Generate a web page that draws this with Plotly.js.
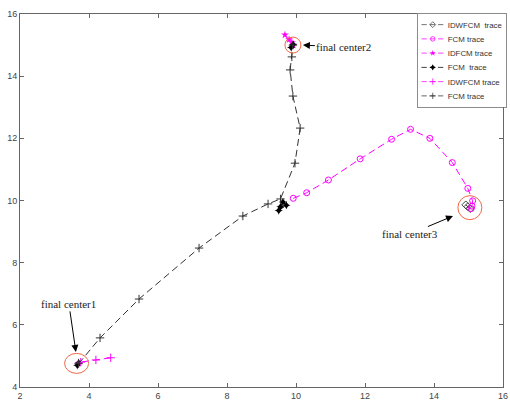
<!DOCTYPE html>
<html><head><meta charset="utf-8">
<script src="https://cdn.plot.ly/plotly-3.0.1.min.js"></script>
<style>html,body{margin:0;padding:0;background:#fff}#chart{width:510px;height:400px}</style>
</head><body><div id="chart"></div>
<script>
// Trace data
const idwfcmBlackX = [14.92, 14.98, 15.05];
const idwfcmBlackY = [9.86, 9.80, 9.74];
const fcmMagentaX = [9.92, 10.31, 10.94, 11.86, 12.77, 13.32, 13.88, 14.53, 14.98, 15.12, 15.10, 15.08];
const fcmMagentaY = [10.07, 10.25, 10.66, 11.34, 11.97, 12.29, 12.00, 11.22, 10.39, 9.99, 9.82, 9.74];
const idfcmMagentaX = [9.68, 9.80, 9.88, 9.92];
const idfcmMagentaY = [15.33, 15.18, 15.08, 15.00];
const fcmStarX = [3.66, 3.70, null, 9.50, 9.72, 9.62, 9.55, null, 9.86, 9.92];
const fcmStarY = [4.70, 4.78, null, 9.68, 9.85, 9.95, 9.80, null, 14.92, 15.02];
const idwfcmMagentaX = [4.63, 4.20, 3.76];
const idwfcmMagentaY = [4.94, 4.87, 4.80];
const fcmPlusX = [3.70, 4.32, 5.45, 7.19, 8.46, 9.19, 9.55, 9.97, 10.12, 9.91, 9.83, 9.88, 9.91];
const fcmPlusY = [4.75, 5.58, 6.83, 8.47, 9.50, 9.89, 10.05, 11.20, 12.33, 13.36, 14.20, 14.62, 15.00];
const legendNames = ['IDWFCM  trace', 'FCM trace', 'IDFCM trace', 'FCM  trace', 'IDWFCM trace', 'FCM trace'];
// Final centers and labels
const centerX = [3.64, 9.91, 15.04];
const centerY = [4.76, 15.00, 9.77];
const centerLabels = ['final center1', 'final center2', 'final center3'];
const arrowX = [3.62, 10.20, 14.55];
const arrowY = [5.13, 15.00, 9.50];
const xTicks = [2, 4, 6, 8, 10, 12, 14, 16];
const yTicks = [4, 6, 8, 10, 12, 14, 16];

const dash = {dash: '7px,4px', width: 1};
const traces = [
  {x: idwfcmBlackX, y: idwfcmBlackY, name: legendNames[0], mode: 'lines+markers',
   line: Object.assign({color: '#444'}, dash), marker: {symbol: 'diamond-open', size: 6, color: '#444', line: {width: 1}}},
  {x: fcmMagentaX, y: fcmMagentaY, name: legendNames[1], mode: 'lines+markers',
   line: Object.assign({color: '#ff00ff'}, dash), marker: {symbol: 'circle-open', size: 6, color: '#ff00ff', line: {width: 1}}},
  {x: idfcmMagentaX, y: idfcmMagentaY, name: legendNames[2], mode: 'lines+markers',
   line: Object.assign({color: '#ff00ff'}, dash), marker: {symbol: 'star', size: 6, color: '#ff00ff'}},
  {x: fcmStarX, y: fcmStarY, name: legendNames[3], mode: 'lines+markers', connectgaps: false,
   line: Object.assign({color: '#000'}, dash), marker: {symbol: 'star-diamond', size: 6, color: '#000'}},
  {x: idwfcmMagentaX, y: idwfcmMagentaY, name: legendNames[4], mode: 'lines+markers',
   line: Object.assign({color: '#ff00ff'}, dash), marker: {symbol: 'cross-thin-open', size: 6, color: '#ff00ff', line: {width: 1, color: '#ff00ff'}}},
  {x: fcmPlusX, y: fcmPlusY, name: legendNames[5], mode: 'lines+markers',
   line: Object.assign({color: '#333'}, dash), marker: {symbol: 'cross-thin-open', size: 6, color: '#333', line: {width: 1, color: '#333'}}}
];

const radii = [[12, 10], [8, 8], [12, 12]];
const shapes = centerX.map((cx, i) => ({
  type: 'circle', xref: 'x', yref: 'y', xsizemode: 'pixel', ysizemode: 'pixel',
  xanchor: cx, yanchor: centerY[i],
  x0: -radii[i][0], x1: radii[i][0], y0: -radii[i][1], y1: radii[i][1],
  line: {color: '#f06848', width: 1}
}));
const offsets = [[-7, -48], [41, 2], [-43, 18]];
const annotations = centerLabels.map((t, i) => ({
  x: arrowX[i], y: arrowY[i], text: t, showarrow: true, ax: offsets[i][0], ay: offsets[i][1],
  arrowhead: 2, arrowsize: 1.4, arrowwidth: 1, arrowcolor: '#000',
  font: {family: 'Liberation Serif', size: 11, color: '#222'}
}));

const axisCommon = {showgrid: false, zeroline: false, showline: true, mirror: 'ticks', linecolor: '#666', linewidth: 1,
  ticks: 'inside', ticklen: 4, tickcolor: '#666', tickfont: {family: 'Liberation Sans', size: 9, color: '#444'}, automargin: false};

const layout = {
  width: 510, height: 400,
  margin: {l: 20, r: 7, t: 14, b: 13},
  paper_bgcolor: '#fff', plot_bgcolor: '#fff',
  xaxis: Object.assign({range: [2, 16], tickvals: xTicks}, axisCommon),
  yaxis: Object.assign({range: [4, 16], tickvals: yTicks}, axisCommon),
  showlegend: true,
  legend: {x: 1, y: 1, xanchor: 'right', yanchor: 'top', bordercolor: '#666', borderwidth: 1, bgcolor: '#fff',
    font: {family: 'Liberation Sans', size: 10.5, color: '#333'}, tracegroupgap: 0, itemwidth: 30},
  shapes: shapes, annotations: annotations
};
Plotly.newPlot('chart', traces, layout, {staticPlot: true, displayModeBar: false}).then(function (gd) {
  const lg = gd.querySelector('g.legend');
  if (lg) lg.setAttribute('transform', 'translate(417,13) scale(0.75)');
});
</script></body></html>
